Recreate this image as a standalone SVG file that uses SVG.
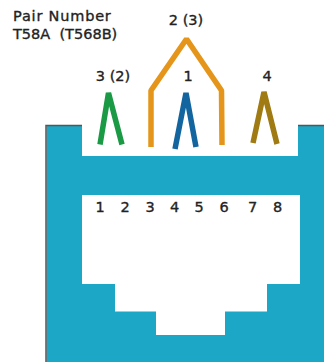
<svg xmlns="http://www.w3.org/2000/svg" width="324" height="362" viewBox="0 0 324 362">
<style>
.t{font-family:"DejaVu Sans",sans-serif;font-size:14.500px;fill:#222;stroke:#222;stroke-width:.35px}
.m{text-anchor:middle}
.l{letter-spacing:.8px}
.w{fill:none;stroke-width:5.500px;stroke-linejoin:bevel}
</style>
<rect width="324" height="362" fill="#fff"/>
<g id="jack">
<path d="M46.500 362V125.500H82V156H298V125.500H324V362Z" fill="#1ba7c5"/>
<path d="M46 362V125.500H82M298 125.500H324" fill="none" stroke="#555" stroke-width="1.500"/>
<path d="M82 195H300V284H267V311.500H225V335H156V311.500H115V284H82Z" fill="#fff"/>
</g>
<g id="connectors">
<path class="w" stroke="#1a9a45" d="M100 144.500L108.500 93L122 144.500"/>
<path class="w" stroke="#e5961a" d="M151 147V90.500L186.500 39L221.500 90.500L222 145"/>
<path class="w" stroke="#13659f" d="M175 149L186 93L196 147"/>
<path class="w" stroke="#a07a12" d="M253 143L264 92L277 144"/>
</g>
<g id="legend">
<text class="t l" x="13" y="21">Pair Number</text>
<text class="t" x="13" y="39" xml:space="preserve">T58A  (T568B)</text>
</g>
<g id="pair-2"><text class="t m" x="186" y="25">2 (3)</text></g>
<g id="pair-3"><text class="t m" x="113" y="81">3 (2)</text></g>
<g id="pair-1"><text class="t m" x="188" y="81">1</text></g>
<g id="pair-4"><text class="t m" x="267" y="81">4</text></g>
<g id="pins">
<text class="t m" x="100" y="212">1</text>
<text class="t m" x="125" y="212">2</text>
<text class="t m" x="150" y="212">3</text>
<text class="t m" x="174.500" y="212">4</text>
<text class="t m" x="199" y="212">5</text>
<text class="t m" x="224" y="212">6</text>
<text class="t m" x="252.500" y="212">7</text>
<text class="t m" x="277.500" y="212">8</text>
</g>
</svg>
